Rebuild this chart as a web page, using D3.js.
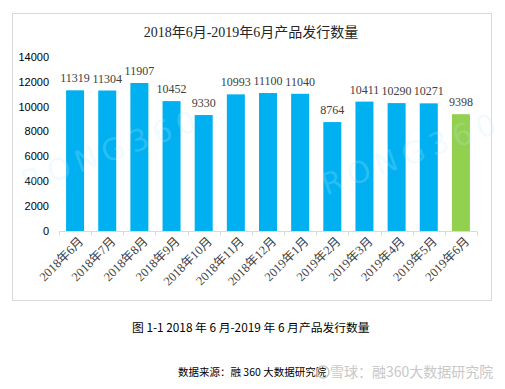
<!DOCTYPE html>
<html>
<head>
<meta charset="utf-8">
<script src="https://cdn.jsdelivr.net/npm/d3@7"></script>
<style>
  body { margin: 0; background: #fff; }
  svg { display: block; }
</style>
</head>
<body>
<svg id="chart" width="505" height="389"></svg>
<script>
const months = ["2018年6月", "2018年7月", "2018年8月", "2018年9月", "2018年10月", "2018年11月", "2018年12月",
    "2019年1月", "2019年2月", "2019年3月", "2019年4月", "2019年5月", "2019年6月"];
const counts = [11319, 11304, 11907, 10452, 9330, 10993, 11100, 11040, 8764, 10411, 10290, 10271, 9398];
const yTicks = [0, 2000, 4000, 6000, 8000, 10000, 12000, 14000];

const SERIF = "'Liberation Serif', 'Noto Sans CJK SC', serif";
const SANS = "'Noto Sans CJK SC', 'DejaVu Sans', sans-serif";

const svg = d3.select("#chart");

// chart frame
svg.append("rect")
    .attr("x", 12.5).attr("y", 13.5)
    .attr("width", 479).attr("height", 287)
    .attr("fill", "#fff").attr("stroke", "#d9d9d9");

svg.append("text")
    .attr("x", 251).attr("y", 37)
    .attr("text-anchor", "middle")
    .attr("font-family", SERIF).attr("font-size", 14).attr("fill", "#262626")
    .text("2018年6月-2019年6月产品发行数量");

const x = d3.scaleBand().domain(months).range([59, 477]).paddingInner(0.44).paddingOuter(0.22);
const y = d3.scaleLinear().domain([0, 14000]).range([231, 57]);

// y axis labels
svg.append("g").selectAll("text").data(yTicks).join("text")
    .attr("x", 49).attr("y", d => y(d))
    .attr("dy", "0.35em").attr("text-anchor", "end")
    .attr("font-family", "'Liberation Sans', Arial, sans-serif").attr("font-size", 11).attr("fill", "#000")
    .text(d => d);

// bars
svg.append("g").selectAll("rect").data(counts).join("rect")
    .attr("x", (d, i) => x(months[i]))
    .attr("y", d => y(d))
    .attr("width", x.bandwidth())
    .attr("height", d => y(0) - y(d))
    .attr("fill", (d, i) => i === counts.length - 1 ? "#92d050" : "#00b0f0");

// faint RONG360 watermark over the plot
[[112, 152], [412, 155]].forEach(([cx, cy]) => {
    svg.append("text")
        .attr("transform", `translate(${cx},${cy}) rotate(-20)`)
        .attr("text-anchor", "middle").attr("dominant-baseline", "middle")
        .attr("font-family", "'DejaVu Sans', sans-serif").attr("font-size", 30)
        .attr("letter-spacing", 6)
        .attr("fill", "#bfeeff").attr("fill-opacity", 0.22)
        .text("RONG360");
});

// value labels
svg.append("g").selectAll("text").data(counts).join("text")
    .attr("x", (d, i) => x(months[i]) + x.bandwidth() / 2)
    .attr("y", d => y(d) - 8)
    .attr("text-anchor", "middle")
    .attr("font-family", SERIF).attr("font-size", 12).attr("fill", "#404040")
    .text(d => d);

// x axis line and ticks at category boundaries
const axisG = svg.append("g").attr("stroke", "#d9d9d9");
axisG.append("line").attr("x1", 59).attr("x2", 477).attr("y1", 231.5).attr("y2", 231.5);
d3.range(months.length + 1).forEach(i => {
    const bx = Math.round(59 + i * x.step()) + 0.5;
    axisG.append("line").attr("x1", bx).attr("x2", bx).attr("y1", 231.5).attr("y2", 235.5);
});

// x labels rotated
svg.append("g").selectAll("text").data(months).join("text")
    .attr("transform", d => `translate(${x(d) + x.bandwidth() / 2 + 6},${239}) rotate(-45)`)
    .attr("text-anchor", "end")
    .attr("dy", "0.35em")
    .attr("font-family", SERIF).attr("font-size", 12.5).attr("fill", "#404040")
    .text(d => d);

// caption and source
svg.append("text")
    .attr("x", 132).attr("y", 332)
    .attr("font-family", SANS).attr("font-size", 11.8).attr("fill", "#000")
    .text("图 1-1 2018 年 6 月-2019 年 6 月产品发行数量");

svg.append("text")
    .attr("x", 178).attr("y", 376)
    .attr("font-family", SANS).attr("font-size", 10.5).attr("fill", "#000")
    .text("数据来源：融 360 大数据研究院");

// xueqiu watermark
svg.append("circle")
    .attr("cx", 323).attr("cy", 372).attr("r", 6)
    .attr("fill", "none").attr("stroke", "#c8c8c8").attr("stroke-width", 1.5);
svg.append("text")
    .attr("x", 330).attr("y", 377)
    .attr("font-family", SANS).attr("font-size", 14).attr("fill", "#c8c8c8")
    .text("雪球：融360大数据研究院");
</script>
</body>
</html>
